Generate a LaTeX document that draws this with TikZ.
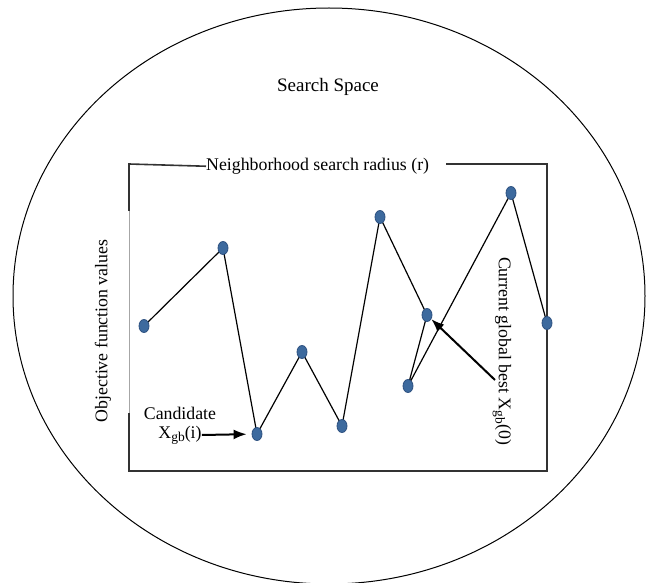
\documentclass[tikz,border=0pt]{standalone}
\usepackage{fontspec}
\setmainfont{Liberation Serif}
\usepackage{tikz}
\usetikzlibrary{shapes.geometric,backgrounds,arrows.meta}
\definecolor{dotblue}{HTML}{3D6A9E}
\definecolor{dotedge}{HTML}{2E5180}
\newcommand{\gbsub}{\raisebox{-0.4ex}{\fontsize{13.5}{15}\selectfont gb}}

\begin{document}
\begin{tikzpicture}[x=1pt,y=-1pt,
  dot/.style={ellipse,draw=dotedge,fill=dotblue,line width=0.8pt,minimum width=10pt,minimum height=13pt,inner sep=0pt},
  lbl/.style={font=\fontsize{17.8}{20}\selectfont,inner sep=0pt},
  walk/.style={line width=1.2pt},
  frame/.style={line width=1.6pt,draw=black!80},
  ptr/.style={line width=2pt,-{Latex[length=13pt,width=10pt]}}]

\useasboundingbox (0,0) rectangle (646,583);

%search space
\draw[line width=1pt] (329,296) ellipse (316 and 288);
\node[lbl,font=\fontsize{19}{22}\selectfont] (space) at (328,87) {Search Space};

%neighborhood box
\node[lbl,anchor=base west] (nbr) at (206,170.5) {Neighborhood search radius (r)};
\draw[frame] (nbr.west) -- (129,164) -- (129,211);
\draw[gray!70,line width=1pt] (129,211) -- (129,413);
\draw[frame] (129,413) -- (129,471) -- (547,471) -- (547,164) -- (446,164);
\node[lbl,rotate=90] (obj) at (103,331) {Objective function values};

%candidates
\foreach \n/\x/\y in {1/144/326, 2/223/248, 3/257/434, 4/302/352, 5/342/426,
                      6/380/217, 7/427/315, 8/408/386, 9/511/193, 10/547/323}
  \node[dot] (p\n) at (\x,\y) {};
\begin{scope}[on background layer]
\draw[walk] (p1.center) -- (p2.center) -- (p3.center) -- (p4.center) -- (p5.center)
  -- (p6.center) -- (p7.center) -- (p8.center) -- (p9.center) -- (p10.center);
\end{scope}

%labels with pointers
\node[lbl] (cand) at (180,413) {Candidate};
\node[lbl] (candx) at (180,435) {X\gbsub(i)};
\draw[ptr,shorten >=5pt] (candx.east) -- (p3);

\node[lbl,rotate=-90] (best) at (502,351) {Current global best X\gbsub(0)};
\coordinate (besttail) at (495,380);
\draw[ptr] (besttail) -- (p7);

\end{tikzpicture}
\end{document}
